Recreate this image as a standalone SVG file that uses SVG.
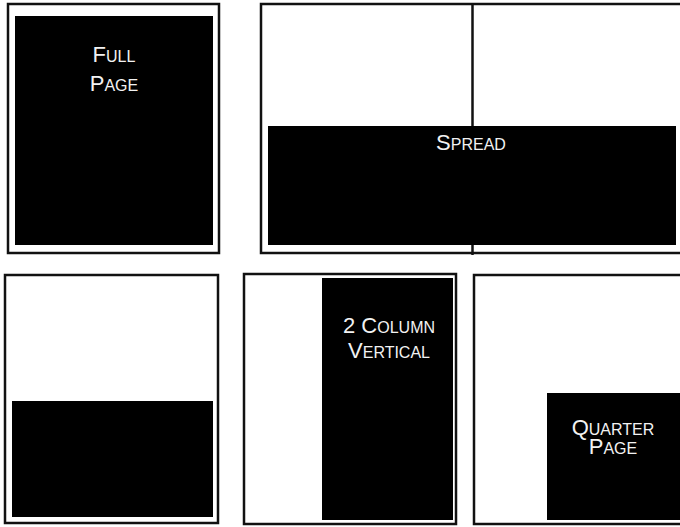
<svg xmlns="http://www.w3.org/2000/svg" width="680" height="527" viewBox="0 0 680 527">
<style>
.page{fill:#fff;stroke:#111;stroke-width:2.5}
.ad{fill:#000}
.lbl{fill:#f2f2f2;font-family:"Liberation Sans",Arial,sans-serif;font-size:22px;text-anchor:middle}
.sc{font-size:16px}
</style>
<rect width="680" height="527" fill="#fff"/>
<g id="full-page">
<rect class="page" x="8" y="4" width="211" height="249"/>
<rect class="ad" x="15" y="16" width="198" height="229"/>
<text class="lbl" x="114" y="62">F<tspan class="sc">ULL</tspan></text>
<text class="lbl" x="114" y="91">P<tspan class="sc">AGE</tspan></text>
</g>
<g id="spread">
<rect class="page" x="261" y="4" width="440" height="249"/>
<line x1="472.5" y1="4" x2="472.5" y2="255" stroke="#111" stroke-width="2.5"/>
<rect class="ad" x="268" y="126" width="408" height="119"/>
<text class="lbl" x="471" y="150">S<tspan class="sc">PREAD</tspan></text>
</g>
<g id="half-page">
<rect class="page" x="5" y="275" width="213" height="248"/>
<rect class="ad" x="12" y="401" width="201" height="116"/>
</g>
<g id="two-column-vertical">
<rect class="page" x="244" y="274" width="212" height="250"/>
<rect class="ad" x="322" y="278" width="131" height="242"/>
<text class="lbl" x="389" y="333">2 C<tspan class="sc">OLUMN</tspan></text>
<text class="lbl" x="389" y="358">V<tspan class="sc">ERTICAL</tspan></text>
</g>
<g id="quarter-page">
<rect class="page" x="474" y="275" width="220" height="249"/>
<rect class="ad" x="547" y="393" width="140" height="127"/>
<text class="lbl" x="613" y="435">Q<tspan class="sc">UARTER</tspan></text>
<text class="lbl" x="613" y="454">P<tspan class="sc">AGE</tspan></text>
</g>
<g id="connectors"></g>
</svg>
